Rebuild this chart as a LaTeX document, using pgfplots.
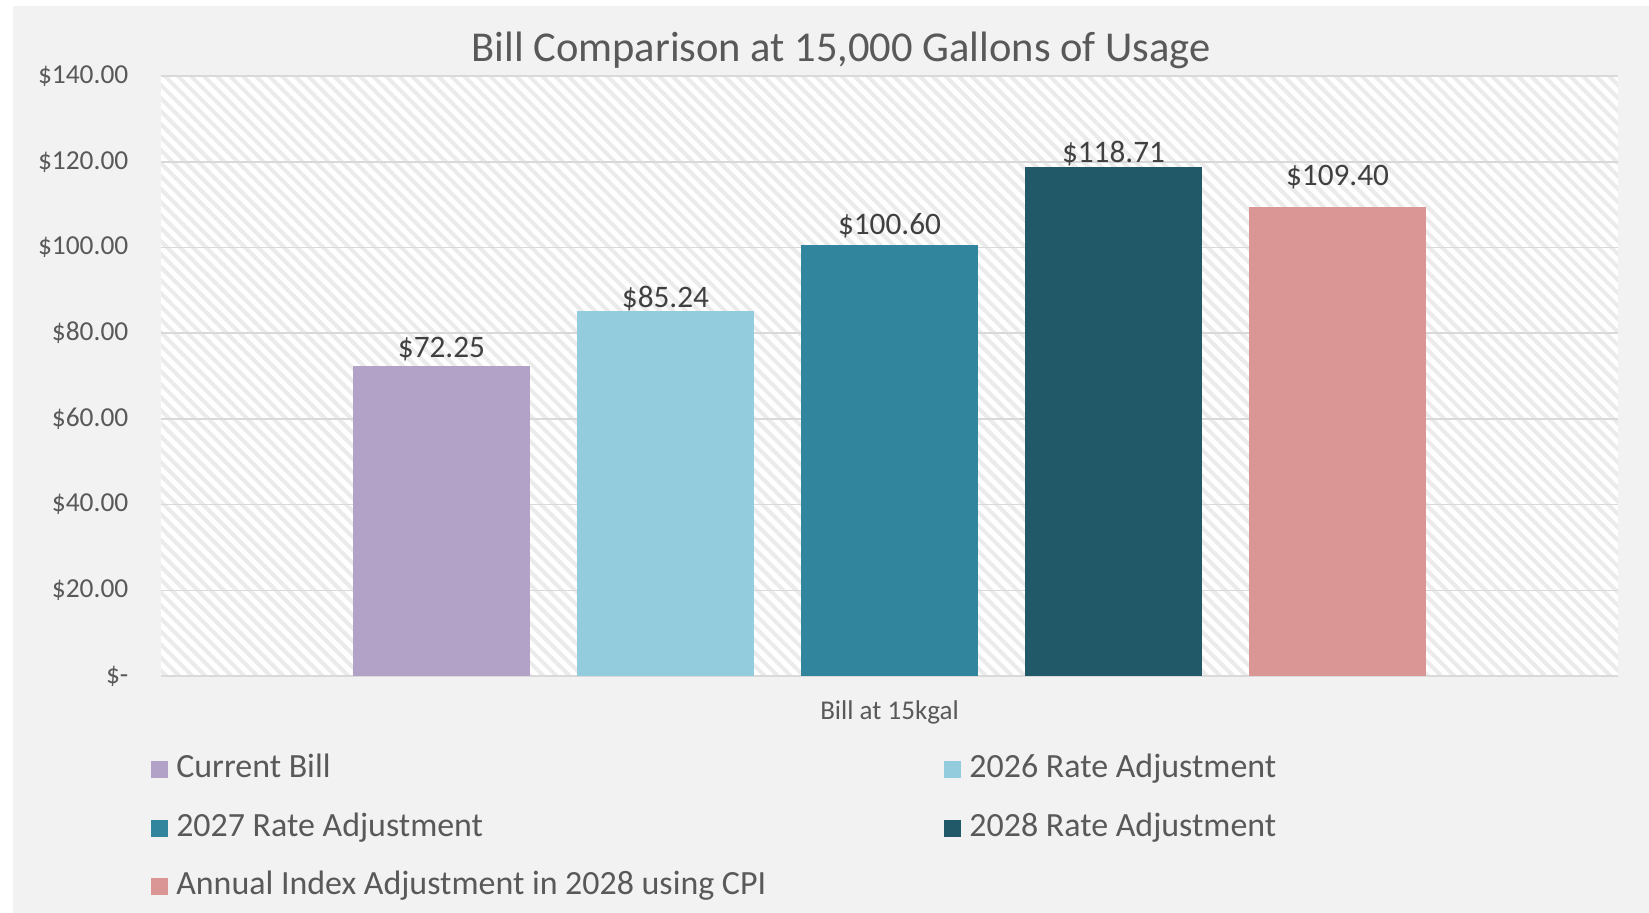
\documentclass[border=0pt]{standalone}
\usepackage{pgfplots}
\pgfplotsset{compat=1.18}
\usepackage{fontspec}
\setmainfont{Carlito}
\usetikzlibrary{patterns.meta}
\definecolor{txt}{HTML}{595959}
\definecolor{lbl}{HTML}{404040}
\definecolor{cbg}{HTML}{F2F2F2}
\definecolor{grd}{HTML}{D9D9D9}
\definecolor{hatch}{HTML}{EBEBEB}
\definecolor{cPurple}{HTML}{B3A2C7}
\definecolor{cLight}{HTML}{93CDDD}
\definecolor{cTeal}{HTML}{31859C}
\definecolor{cDark}{HTML}{215968}
\definecolor{cPink}{HTML}{D99694}
\begin{document}
\begin{tikzpicture}
% page and chart background
\path[use as bounding box, fill=white] (0,0) rectangle (164.9mm,-91.3mm);
\fill[cbg] (1.3mm,-0.6mm) rectangle (164.9mm,-91.3mm);
% plot area: white with wide downward diagonal hatch
\fill[white] (16.1mm,-67.6mm) rectangle (161.8mm,-7.6mm);
\fill[pattern={Lines[angle=-45,distance=0.92mm,line width=0.4mm]}, pattern color=hatch]
  (16.1mm,-67.6mm) rectangle (161.8mm,-7.6mm);
\begin{axis}[
  at={(16.1mm,-67.6mm)}, anchor=south west,
  scale only axis, width=145.7mm, height=60mm,
  ybar, bar width=0.789,
  xmin=-3.252, xmax=3.252, ymin=0, ymax=140,
  ytick={0,20,...,140},
  yticklabels={\$-,\$20.00,\$40.00,\$60.00,\$80.00,\$100.00,\$120.00,\$140.00},
  xtick={0}, xticklabels={Bill at 15kgal},
  axis line style={draw=none},
  major tick length=0pt,
  ymajorgrids, grid style={grd, line width=0.45pt},
  y tick label style={font=\fontsize{7.8}{9}\selectfont, text=txt, inner sep=0pt, anchor=east, xshift=-3.2mm},
  x tick label style={font=\fontsize{7.7}{9}\selectfont, text=txt, inner sep=0pt, anchor=center, yshift=-3.6mm},
  nodes near coords={\$\pgfmathprintnumber[fixed,fixed zerofill,precision=2,assume math mode=true]{\pgfplotspointmeta}},
  every node near coord/.append style={font=\fontsize{8.9}{10}\selectfont, text=lbl},
  legend columns=2,
  legend cell align=left,
  legend style={at={(rel axis cs:-0.00755,-0.1307)}, anchor=north west, draw=none, fill=none,
    inner sep=0pt, row sep=3.09mm, font=\fontsize{9.65}{11}\selectfont, text=txt,
    nodes={inner sep=0pt, text height=2.2mm, text depth=0.6mm},
    /tikz/every odd column/.append style={column sep=0.86mm},
    /tikz/every even column/.append style={column sep=17.76mm}},
  legend image code/.code={\fill[#1] (0mm,-0.85mm) rectangle (1.7mm,0.85mm);},
]
\addplot[fill=cPurple, draw=none, bar shift=0,
  every node near coord/.append style={yshift=-0.74mm}] coordinates {(-2,72.25)};
\addlegendentry{Current Bill}
\addplot[fill=cLight, draw=none, bar shift=0,
  every node near coord/.append style={yshift=-1.26mm}] coordinates {(-1,85.24)};
\addlegendentry{2026 Rate Adjustment}
\addplot[fill=cTeal, draw=none, bar shift=0,
  every node near coord/.append style={yshift=-0.53mm}] coordinates {(0,100.60)};
\addlegendentry{2027 Rate Adjustment}
\addplot[fill=cDark, draw=none, bar shift=0,
  every node near coord/.append style={yshift=-1.16mm}] coordinates {(1,118.71)};
\addlegendentry{2028 Rate Adjustment}
\addplot[fill=cPink, draw=none, bar shift=0,
  every node near coord/.append style={yshift=0.53mm}] coordinates {(2,109.40)};
\addlegendentry{Annual Index Adjustment in 2028 using CPI}
\end{axis}
\node[anchor=base, font=\fontsize{12.1}{14}\selectfont, text=txt] at (84.1mm,-6.17mm)
  {Bill Comparison at 15,000 Gallons of Usage};
\end{tikzpicture}
\end{document}
